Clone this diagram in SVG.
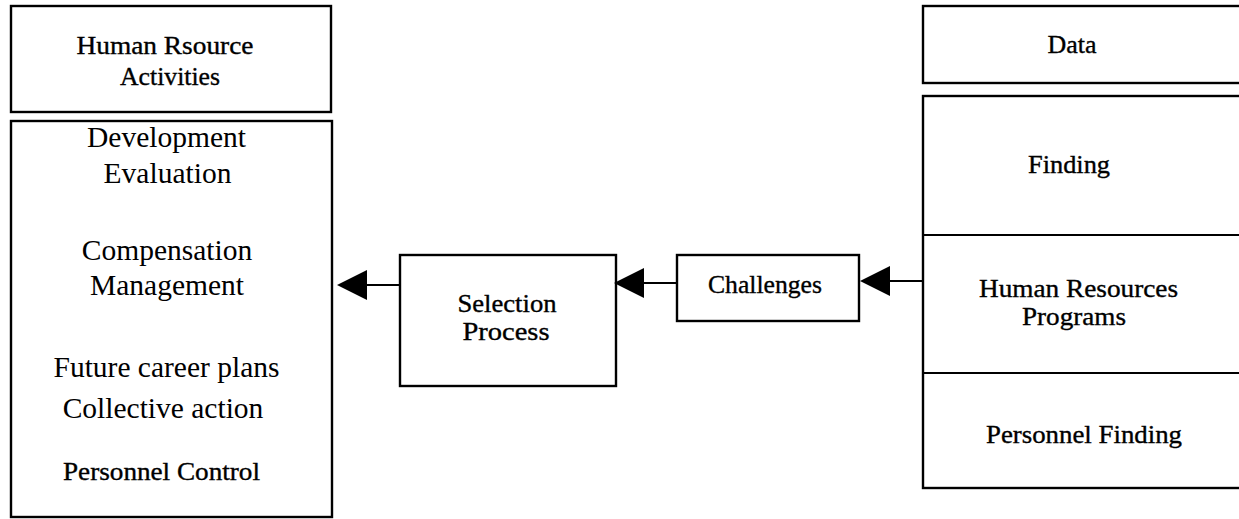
<svg xmlns="http://www.w3.org/2000/svg" width="1239" height="519" viewBox="0 0 1239 519">
<style>
.box{fill:#fff;stroke:#000;stroke-width:2.4}
.ln{stroke:#000;stroke-width:2;fill:none}
.t{font-family:"Liberation Serif","Times New Roman",serif;fill:#000;text-anchor:middle}
.s{font-size:25px;stroke:#000;stroke-width:0.35}
.b{font-size:29.5px}
</style>
<rect width="1239" height="519" fill="#fff"/>
<g id="hr-activities">
<rect class="box" x="11" y="6" width="320" height="106"/>
<text class="t s" x="165" y="54" textLength="177" lengthAdjust="spacingAndGlyphs">Human Rsource</text>
<text class="t s" x="170" y="85" textLength="100" lengthAdjust="spacingAndGlyphs">Activities</text>
</g>
<g id="activities-list">
<rect class="box" x="11" y="121" width="321" height="396"/>
<text class="t b" x="166.5" y="147">Development</text>
<text class="t b" x="167.5" y="183">Evaluation</text>
<text class="t b" x="167" y="260">Compensation</text>
<text class="t b" x="167" y="295">Management</text>
<text class="t b" x="166.5" y="377">Future career plans</text>
<text class="t b" x="163" y="418">Collective action</text>
<text class="t s" x="161.5" y="480" textLength="197" lengthAdjust="spacingAndGlyphs">Personnel Control</text>
</g>
<g id="selection">
<rect class="box" x="400" y="255" width="216" height="131"/>
<text class="t s" x="507" y="312" textLength="99" lengthAdjust="spacingAndGlyphs">Selection</text>
<text class="t s" x="506" y="340" textLength="87" lengthAdjust="spacingAndGlyphs">Process</text>
</g>
<g id="challenges">
<rect class="box" x="677" y="255" width="182" height="66"/>
<text class="t s" x="765" y="293" textLength="114" lengthAdjust="spacingAndGlyphs">Challenges</text>
</g>
<g id="data">
<rect class="box" x="923" y="6" width="320" height="77"/>
<text class="t s" x="1072" y="53" textLength="49" lengthAdjust="spacingAndGlyphs">Data</text>
</g>
<g id="hr-data">
<rect class="box" x="923" y="96" width="320" height="392"/>
<line class="ln" x1="923" y1="235" x2="1243" y2="235"/>
<line class="ln" x1="923" y1="373" x2="1243" y2="373"/>
<text class="t s" x="1069" y="173" textLength="82" lengthAdjust="spacingAndGlyphs">Finding</text>
<text class="t s" x="1078.5" y="297" textLength="199" lengthAdjust="spacingAndGlyphs">Human Resources</text>
<text class="t s" x="1074" y="325" textLength="104" lengthAdjust="spacingAndGlyphs">Programs</text>
<text class="t s" x="1084" y="443" textLength="196" lengthAdjust="spacingAndGlyphs">Personnel Finding</text>
</g>
<g id="connectors">
<line class="ln" x1="923" y1="281" x2="890" y2="281"/>
<path d="M860,281 L890,266 L890,296 Z" fill="#000"/>
<line class="ln" x1="677" y1="283" x2="644" y2="283"/>
<path d="M614,283 L644,268 L644,298 Z" fill="#000"/>
<line class="ln" x1="400" y1="285" x2="367" y2="285"/>
<path d="M337,285 L367,270 L367,300 Z" fill="#000"/>
</g>
</svg>
